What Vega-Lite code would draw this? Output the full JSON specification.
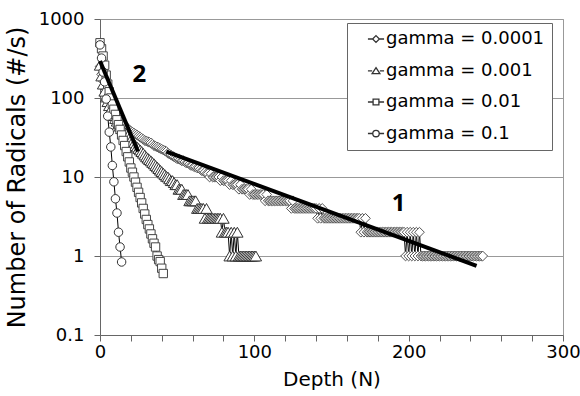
{
"$schema": "https://vega.github.io/schema/vega-lite/v6.json",
"width": 463, "height": 316,
"autosize": {"type": "none"},
"padding": {"left": 100, "top": 19, "right": 17, "bottom": 61},
"background": "white",
"config": {"view": {"stroke": "#999", "strokeWidth": 1}, "font": "DejaVu Sans"},
"datasets": {
"series": [
{"g":"0.0001","d":0,"v":250},{"g":"0.0001","d":1,"v":200},{"g":"0.0001","d":2,"v":165},{"g":"0.0001","d":3,"v":135},{"g":"0.0001","d":4,"v":115},{"g":"0.0001","d":5,"v":100},{"g":"0.0001","d":6,"v":88},{"g":"0.0001","d":7,"v":79},{"g":"0.0001","d":8,"v":72},{"g":"0.0001","d":9,"v":66},
{"g":"0.0001","d":10,"v":61},{"g":"0.0001","d":11,"v":57},{"g":"0.0001","d":12,"v":54},{"g":"0.0001","d":13,"v":51},{"g":"0.0001","d":14,"v":49},{"g":"0.0001","d":15,"v":47},{"g":"0.0001","d":16,"v":45},{"g":"0.0001","d":17,"v":43},{"g":"0.0001","d":18,"v":41},{"g":"0.0001","d":19,"v":39.5},
{"g":"0.0001","d":20,"v":38},{"g":"0.0001","d":21,"v":37},{"g":"0.0001","d":22,"v":36},{"g":"0.0001","d":23,"v":35},{"g":"0.0001","d":24,"v":34},{"g":"0.0001","d":25,"v":33},{"g":"0.0001","d":26,"v":32},{"g":"0.0001","d":27,"v":31},{"g":"0.0001","d":28,"v":30},{"g":"0.0001","d":29,"v":29},
{"g":"0.0001","d":30,"v":28.5},{"g":"0.0001","d":31,"v":28},{"g":"0.0001","d":32,"v":27.5},{"g":"0.0001","d":33,"v":27},{"g":"0.0001","d":34,"v":26},{"g":"0.0001","d":35,"v":25},{"g":"0.0001","d":36,"v":24.5},{"g":"0.0001","d":37,"v":24},{"g":"0.0001","d":38,"v":23.5},{"g":"0.0001","d":39,"v":23},
{"g":"0.0001","d":40,"v":22.5},{"g":"0.0001","d":41,"v":22},{"g":"0.0001","d":42,"v":21.5},{"g":"0.0001","d":43,"v":21},{"g":"0.0001","d":44,"v":20},{"g":"0.0001","d":45,"v":19.5},{"g":"0.0001","d":46,"v":19},{"g":"0.0001","d":47,"v":18.5},{"g":"0.0001","d":48,"v":18},{"g":"0.0001","d":49,"v":17.5},
{"g":"0.0001","d":50,"v":17},{"g":"0.0001","d":51,"v":17},{"g":"0.0001","d":52,"v":16.5},{"g":"0.0001","d":53,"v":16},{"g":"0.0001","d":54,"v":16},{"g":"0.0001","d":55,"v":15.5},{"g":"0.0001","d":56,"v":15},{"g":"0.0001","d":57,"v":15},{"g":"0.0001","d":58,"v":14.5},{"g":"0.0001","d":59,"v":14},
{"g":"0.0001","d":60,"v":14},{"g":"0.0001","d":61,"v":13.5},{"g":"0.0001","d":62,"v":13.5},{"g":"0.0001","d":63,"v":13},{"g":"0.0001","d":64,"v":13},{"g":"0.0001","d":65,"v":12.5},{"g":"0.0001","d":66,"v":12},{"g":"0.0001","d":67,"v":12},{"g":"0.0001","d":68,"v":11.5},{"g":"0.0001","d":69,"v":11},
{"g":"0.0001","d":70,"v":11},{"g":"0.0001","d":71,"v":10},{"g":"0.0001","d":72,"v":11},{"g":"0.0001","d":73,"v":10},{"g":"0.0001","d":74,"v":10},{"g":"0.0001","d":75,"v":10},{"g":"0.0001","d":76,"v":10},{"g":"0.0001","d":77,"v":10},{"g":"0.0001","d":78,"v":9},{"g":"0.0001","d":79,"v":10},
{"g":"0.0001","d":80,"v":9},{"g":"0.0001","d":81,"v":9},{"g":"0.0001","d":82,"v":9},{"g":"0.0001","d":83,"v":9},{"g":"0.0001","d":84,"v":8},{"g":"0.0001","d":85,"v":9},{"g":"0.0001","d":86,"v":8},{"g":"0.0001","d":87,"v":8},{"g":"0.0001","d":88,"v":8},{"g":"0.0001","d":89,"v":8},
{"g":"0.0001","d":90,"v":7},{"g":"0.0001","d":91,"v":8},{"g":"0.0001","d":92,"v":7},{"g":"0.0001","d":93,"v":7},{"g":"0.0001","d":94,"v":7},{"g":"0.0001","d":95,"v":7},{"g":"0.0001","d":96,"v":7},{"g":"0.0001","d":97,"v":6},{"g":"0.0001","d":98,"v":7},{"g":"0.0001","d":99,"v":6},
{"g":"0.0001","d":100,"v":6},{"g":"0.0001","d":101,"v":6},{"g":"0.0001","d":102,"v":6},{"g":"0.0001","d":103,"v":6},{"g":"0.0001","d":104,"v":6},{"g":"0.0001","d":105,"v":6},{"g":"0.0001","d":106,"v":6},{"g":"0.0001","d":107,"v":5},{"g":"0.0001","d":108,"v":6},{"g":"0.0001","d":109,"v":5},
{"g":"0.0001","d":110,"v":5},{"g":"0.0001","d":111,"v":5},{"g":"0.0001","d":112,"v":5},{"g":"0.0001","d":113,"v":5},{"g":"0.0001","d":114,"v":5},{"g":"0.0001","d":115,"v":5},{"g":"0.0001","d":116,"v":5},{"g":"0.0001","d":117,"v":5},{"g":"0.0001","d":118,"v":5},{"g":"0.0001","d":119,"v":5},
{"g":"0.0001","d":120,"v":5},{"g":"0.0001","d":121,"v":5},{"g":"0.0001","d":122,"v":5},{"g":"0.0001","d":123,"v":5},{"g":"0.0001","d":124,"v":4},{"g":"0.0001","d":125,"v":5},{"g":"0.0001","d":126,"v":4},{"g":"0.0001","d":127,"v":4},{"g":"0.0001","d":128,"v":4},{"g":"0.0001","d":129,"v":4},
{"g":"0.0001","d":130,"v":4},{"g":"0.0001","d":131,"v":4},{"g":"0.0001","d":132,"v":4},{"g":"0.0001","d":133,"v":4},{"g":"0.0001","d":134,"v":4},{"g":"0.0001","d":135,"v":4},{"g":"0.0001","d":136,"v":4},{"g":"0.0001","d":137,"v":4},{"g":"0.0001","d":138,"v":4},{"g":"0.0001","d":139,"v":4},
{"g":"0.0001","d":140,"v":4},{"g":"0.0001","d":141,"v":3},{"g":"0.0001","d":142,"v":4},{"g":"0.0001","d":143,"v":3},{"g":"0.0001","d":144,"v":4},{"g":"0.0001","d":145,"v":3},{"g":"0.0001","d":146,"v":3},{"g":"0.0001","d":147,"v":3},{"g":"0.0001","d":148,"v":3},{"g":"0.0001","d":149,"v":3},
{"g":"0.0001","d":150,"v":3},{"g":"0.0001","d":151,"v":3},{"g":"0.0001","d":152,"v":3},{"g":"0.0001","d":153,"v":3},{"g":"0.0001","d":154,"v":3},{"g":"0.0001","d":155,"v":3},{"g":"0.0001","d":156,"v":3},{"g":"0.0001","d":157,"v":3},{"g":"0.0001","d":158,"v":3},{"g":"0.0001","d":159,"v":3},
{"g":"0.0001","d":160,"v":3},{"g":"0.0001","d":161,"v":3},{"g":"0.0001","d":162,"v":3},{"g":"0.0001","d":163,"v":3},{"g":"0.0001","d":164,"v":3},{"g":"0.0001","d":165,"v":3},{"g":"0.0001","d":166,"v":3},{"g":"0.0001","d":167,"v":3},{"g":"0.0001","d":168,"v":3},{"g":"0.0001","d":169,"v":2},
{"g":"0.0001","d":170,"v":3},{"g":"0.0001","d":171,"v":2},{"g":"0.0001","d":172,"v":3},{"g":"0.0001","d":173,"v":2},{"g":"0.0001","d":174,"v":2},{"g":"0.0001","d":175,"v":2},{"g":"0.0001","d":176,"v":2},{"g":"0.0001","d":177,"v":2},{"g":"0.0001","d":178,"v":2},{"g":"0.0001","d":179,"v":2},
{"g":"0.0001","d":180,"v":2},{"g":"0.0001","d":181,"v":2},{"g":"0.0001","d":182,"v":2},{"g":"0.0001","d":183,"v":2},{"g":"0.0001","d":184,"v":2},{"g":"0.0001","d":185,"v":2},{"g":"0.0001","d":186,"v":2},{"g":"0.0001","d":187,"v":2},{"g":"0.0001","d":188,"v":2},{"g":"0.0001","d":189,"v":2},
{"g":"0.0001","d":190,"v":2},{"g":"0.0001","d":191,"v":2},{"g":"0.0001","d":192,"v":2},{"g":"0.0001","d":193,"v":2},{"g":"0.0001","d":194,"v":2},{"g":"0.0001","d":195,"v":2},{"g":"0.0001","d":196,"v":2},{"g":"0.0001","d":197,"v":2},{"g":"0.0001","d":198,"v":1},{"g":"0.0001","d":199,"v":2},
{"g":"0.0001","d":200,"v":1},{"g":"0.0001","d":201,"v":2},{"g":"0.0001","d":202,"v":1},{"g":"0.0001","d":203,"v":2},{"g":"0.0001","d":204,"v":1},{"g":"0.0001","d":205,"v":2},{"g":"0.0001","d":206,"v":1},{"g":"0.0001","d":207,"v":2},{"g":"0.0001","d":208,"v":1},{"g":"0.0001","d":209,"v":1},
{"g":"0.0001","d":210,"v":1},{"g":"0.0001","d":211,"v":1},{"g":"0.0001","d":212,"v":1},{"g":"0.0001","d":213,"v":1},{"g":"0.0001","d":214,"v":1},{"g":"0.0001","d":215,"v":1},{"g":"0.0001","d":216,"v":1},{"g":"0.0001","d":217,"v":1},{"g":"0.0001","d":218,"v":1},{"g":"0.0001","d":219,"v":1},
{"g":"0.0001","d":220,"v":1},{"g":"0.0001","d":221,"v":1},{"g":"0.0001","d":222,"v":1},{"g":"0.0001","d":223,"v":1},{"g":"0.0001","d":224,"v":1},{"g":"0.0001","d":225,"v":1},{"g":"0.0001","d":226,"v":1},{"g":"0.0001","d":227,"v":1},{"g":"0.0001","d":228,"v":1},{"g":"0.0001","d":229,"v":1},
{"g":"0.0001","d":230,"v":1},{"g":"0.0001","d":231,"v":1},{"g":"0.0001","d":232,"v":1},{"g":"0.0001","d":233,"v":1},{"g":"0.0001","d":234,"v":1},{"g":"0.0001","d":235,"v":1},{"g":"0.0001","d":236,"v":1},{"g":"0.0001","d":237,"v":1},{"g":"0.0001","d":238,"v":1},{"g":"0.0001","d":239,"v":1},
{"g":"0.0001","d":240,"v":1},{"g":"0.0001","d":241,"v":1},{"g":"0.0001","d":242,"v":1},{"g":"0.0001","d":243,"v":1},{"g":"0.0001","d":244,"v":1},{"g":"0.0001","d":245,"v":1},{"g":"0.0001","d":246,"v":1},{"g":"0.0001","d":247,"v":1},{"g":"0.0001","d":248,"v":1},
{"g":"0.001","d":0,"v":260},{"g":"0.001","d":1,"v":190},{"g":"0.001","d":2,"v":150},{"g":"0.001","d":3,"v":122},{"g":"0.001","d":4,"v":103},{"g":"0.001","d":5,"v":90},{"g":"0.001","d":6,"v":80},{"g":"0.001","d":7,"v":72},{"g":"0.001","d":8,"v":65},{"g":"0.001","d":9,"v":60},
{"g":"0.001","d":10,"v":55},{"g":"0.001","d":11,"v":51},{"g":"0.001","d":12,"v":47},{"g":"0.001","d":13,"v":44},{"g":"0.001","d":14,"v":41},{"g":"0.001","d":15,"v":39},{"g":"0.001","d":16,"v":37},{"g":"0.001","d":17,"v":35},{"g":"0.001","d":18,"v":33},{"g":"0.001","d":19,"v":31},
{"g":"0.001","d":20,"v":29.5},{"g":"0.001","d":21,"v":28},{"g":"0.001","d":22,"v":26.5},{"g":"0.001","d":23,"v":25},{"g":"0.001","d":24,"v":24},{"g":"0.001","d":25,"v":23},{"g":"0.001","d":26,"v":22},{"g":"0.001","d":27,"v":21},{"g":"0.001","d":28,"v":20},{"g":"0.001","d":29,"v":19},
{"g":"0.001","d":30,"v":18},{"g":"0.001","d":31,"v":17.3},{"g":"0.001","d":32,"v":16.6},{"g":"0.001","d":33,"v":16},{"g":"0.001","d":34,"v":15.3},{"g":"0.001","d":35,"v":14.7},{"g":"0.001","d":36,"v":14},{"g":"0.001","d":37,"v":13.4},{"g":"0.001","d":38,"v":12.8},{"g":"0.001","d":39,"v":12.2},
{"g":"0.001","d":40,"v":11.7},{"g":"0.001","d":41,"v":11.2},{"g":"0.001","d":42,"v":10.7},{"g":"0.001","d":43,"v":10.2},{"g":"0.001","d":44,"v":10},{"g":"0.001","d":45,"v":9.5},{"g":"0.001","d":46,"v":9},{"g":"0.001","d":47,"v":9},{"g":"0.001","d":48,"v":8.5},{"g":"0.001","d":49,"v":8},
{"g":"0.001","d":50,"v":8},{"g":"0.001","d":51,"v":7},{"g":"0.001","d":52,"v":7},{"g":"0.001","d":53,"v":7},{"g":"0.001","d":54,"v":6},{"g":"0.001","d":55,"v":6},{"g":"0.001","d":56,"v":6},{"g":"0.001","d":57,"v":6},{"g":"0.001","d":58,"v":5},{"g":"0.001","d":59,"v":5},
{"g":"0.001","d":60,"v":5},{"g":"0.001","d":61,"v":5},{"g":"0.001","d":62,"v":5},{"g":"0.001","d":63,"v":4},{"g":"0.001","d":64,"v":4},{"g":"0.001","d":65,"v":4},{"g":"0.001","d":66,"v":4},{"g":"0.001","d":67,"v":4},{"g":"0.001","d":68,"v":3},{"g":"0.001","d":69,"v":4},
{"g":"0.001","d":70,"v":3},{"g":"0.001","d":71,"v":3},{"g":"0.001","d":72,"v":3},{"g":"0.001","d":73,"v":3},{"g":"0.001","d":74,"v":3},{"g":"0.001","d":75,"v":3},{"g":"0.001","d":76,"v":3},{"g":"0.001","d":77,"v":3},{"g":"0.001","d":78,"v":3},{"g":"0.001","d":79,"v":2},
{"g":"0.001","d":80,"v":3},{"g":"0.001","d":81,"v":2},{"g":"0.001","d":82,"v":2},{"g":"0.001","d":83,"v":2},{"g":"0.001","d":84,"v":1},{"g":"0.001","d":85,"v":2},{"g":"0.001","d":86,"v":1},{"g":"0.001","d":87,"v":2},{"g":"0.001","d":88,"v":1},{"g":"0.001","d":89,"v":2},
{"g":"0.001","d":90,"v":1},{"g":"0.001","d":91,"v":1},{"g":"0.001","d":92,"v":1},{"g":"0.001","d":93,"v":1},{"g":"0.001","d":94,"v":1},{"g":"0.001","d":95,"v":1},{"g":"0.001","d":96,"v":1},{"g":"0.001","d":97,"v":1},{"g":"0.001","d":98,"v":1},{"g":"0.001","d":99,"v":1},
{"g":"0.001","d":100,"v":1},{"g":"0.001","d":101,"v":1},
{"g":"0.01","d":0,"v":500},{"g":"0.01","d":1,"v":420},{"g":"0.01","d":2,"v":340},{"g":"0.01","d":3,"v":260},{"g":"0.01","d":4,"v":195},{"g":"0.01","d":5,"v":150},{"g":"0.01","d":6,"v":120},{"g":"0.01","d":7,"v":100},{"g":"0.01","d":8,"v":84},{"g":"0.01","d":9,"v":72},
{"g":"0.01","d":10,"v":62},{"g":"0.01","d":11,"v":53},{"g":"0.01","d":12,"v":46},{"g":"0.01","d":13,"v":40},{"g":"0.01","d":14,"v":34},{"g":"0.01","d":15,"v":29},{"g":"0.01","d":16,"v":25},{"g":"0.01","d":17,"v":21},{"g":"0.01","d":18,"v":18},{"g":"0.01","d":19,"v":15.5},
{"g":"0.01","d":20,"v":13},{"g":"0.01","d":21,"v":11.5},{"g":"0.01","d":22,"v":10},{"g":"0.01","d":23,"v":8.6},{"g":"0.01","d":24,"v":7.4},{"g":"0.01","d":25,"v":6.4},{"g":"0.01","d":26,"v":5.5},{"g":"0.01","d":27,"v":4.7},{"g":"0.01","d":28,"v":4},{"g":"0.01","d":29,"v":3.4},
{"g":"0.01","d":30,"v":2.9},{"g":"0.01","d":31,"v":2.5},{"g":"0.01","d":32,"v":2.2},{"g":"0.01","d":33,"v":1.9},{"g":"0.01","d":34,"v":1.65},{"g":"0.01","d":35,"v":1.45},{"g":"0.01","d":36,"v":1.3},{"g":"0.01","d":37,"v":1},{"g":"0.01","d":38,"v":0.9},{"g":"0.01","d":39,"v":0.85},
{"g":"0.01","d":40,"v":0.7},{"g":"0.01","d":41,"v":0.6},
{"g":"0.1","d":0,"v":470},{"g":"0.1","d":1,"v":320},{"g":"0.1","d":2,"v":213},{"g":"0.1","d":3,"v":160},{"g":"0.1","d":4,"v":97},{"g":"0.1","d":5,"v":59},{"g":"0.1","d":6,"v":37},{"g":"0.1","d":7,"v":24},{"g":"0.1","d":8,"v":14},{"g":"0.1","d":9,"v":8.7},
{"g":"0.1","d":10,"v":5.3},{"g":"0.1","d":11,"v":3.5},{"g":"0.1","d":12,"v":2},{"g":"0.1","d":13,"v":1.3},{"g":"0.1","d":14,"v":0.84}
],
"fits": [
{"f":"1","d":43,"v":21},{"f":"1","d":244,"v":0.75},
{"f":"2","d":0,"v":294},{"f":"2","d":24.6,"v":21}
],
"labels": [
{"t":"1","d":193.5,"v":4.5},{"t":"2","d":25.5,"v":193}
]
},
"encoding": {
"x": {"field": "d", "type": "quantitative",
 "scale": {"domain": [0, 300], "nice": false, "zero": false},
 "axis": {"title": "Depth (N)", "values": [0,20,40,60,80,100,120,140,160,180,200,220,240,260,280,300],
  "labelExpr": "datum.value % 100 === 0 ? datum.label : ''", "grid": false,
  "labelFont": "DejaVu Sans", "labelFontSize": 18, "labelColor": "#000", "labelPadding": 2,
  "labelOverlap": false, "labelBound": false, "labelFlush": false,
  "tickSize": 6, "tickColor": "#666", "domainColor": "#666",
  "titleFont": "DejaVu Sans", "titleFontSize": 20, "titleFontWeight": "normal", "titleColor": "#000", "titlePadding": 8}},
"y": {"field": "v", "type": "quantitative",
 "scale": {"type": "log", "domain": [0.1, 1000], "nice": false},
 "axis": {"title": "Number of Radicals (#/s)", "values": [0.1, 1, 10, 100, 1000], "format": "~g",
  "grid": true, "gridColor": "#999", "gridWidth": 1,
  "labelFont": "DejaVu Sans", "labelFontSize": 18, "labelColor": "#000", "labelPadding": 10,
  "labelOverlap": false, "labelBound": false, "labelFlush": false,
  "tickSize": 6, "tickColor": "#666", "domainColor": "#666",
  "titleFont": "DejaVu Sans", "titleFontSize": 24, "titleFontWeight": "normal", "titleColor": "#000", "titlePadding": 9}}
},
"layer": [
{"data": {"name": "series"},
 "mark": {"type": "line", "color": "#000", "strokeWidth": 1},
 "encoding": {"detail": {"field": "g", "type": "nominal"}}},
{"data": {"name": "series"}, "transform": [{"filter": "datum.g == '0.0001'"}],
 "mark": {"type": "point", "shape": "diamond", "fill": "#fff", "fillOpacity": 1, "opacity": 1, "strokeWidth": 1, "stroke": "#555", "size": 95}},
{"data": {"name": "series"}, "transform": [{"filter": "datum.g == '0.001'"}],
 "mark": {"type": "point", "shape": "triangle-up", "fill": "#fff", "fillOpacity": 1, "opacity": 1, "strokeWidth": 1, "stroke": "#333", "size": 130}},
{"data": {"name": "series"}, "transform": [{"filter": "datum.g == '0.01'"}],
 "mark": {"type": "point", "shape": "square", "fill": "#fff", "fillOpacity": 1, "opacity": 1, "strokeWidth": 1, "stroke": "#444", "size": 70}},
{"data": {"name": "series"}, "transform": [{"filter": "datum.g == '0.1'"}],
 "mark": {"type": "point", "shape": "circle", "fill": "#fff", "fillOpacity": 1, "opacity": 1, "strokeWidth": 1, "stroke": "#333", "size": 72}},
{"data": {"name": "fits"},
 "mark": {"type": "line", "color": "#000", "strokeWidth": 4, "strokeCap": "butt"},
 "encoding": {"detail": {"field": "f", "type": "nominal"}}},
{"data": {"name": "labels"},
 "mark": {"type": "text", "font": "Open Sans", "fontWeight": "bold", "fontSize": 24, "color": "#000", "align": "center", "baseline": "middle"},
 "encoding": {"text": {"field": "t", "type": "nominal"}}},
{"data": {"name": "series"}, "transform": [{"filter": "datum.g == 'none'"}],
 "mark": {"type": "point", "filled": false, "stroke": "#333", "strokeWidth": 1.3},
 "encoding": {
  "shape": {"field": "g", "type": "nominal",
   "scale": {"domain": ["0.0001","0.001","0.01","0.1"],
    "range": ["M-1,0H-0.42M0.42,0H1M0,-0.42L0.42,0L0,0.42L-0.42,0Z",
              "M-1,0.05H-0.48M0.48,0.05H1M0,-0.36L0.48,0.38L-0.48,0.38Z",
              "M-1,0H-0.36M0.36,0H1M-0.36,-0.36H0.36V0.36H-0.36Z",
              "M-1,0H-0.4M0.4,0H1M0.4,0A0.4,0.4,0,1,1,-0.4,0A0.4,0.4,0,1,1,0.4,0Z"]},
   "legend": {"title": null, "orient": "none", "legendX": 247, "legendY": 4,
    "labelExpr": "'gamma = ' + datum.label",
    "labelFont": "DejaVu Sans", "labelFontSize": 18, "labelColor": "#000", "labelOffset": 1,
    "symbolSize": 260, "symbolFillColor": "#ffffff", "symbolStrokeColor": "#333333", "symbolStrokeWidth": 1.3, "symbolOpacity": 1,
    "symbolOffset": 13, "padding": 7, "rowPadding": 13.5,
    "strokeColor": "#666", "fillColor": "#fff"}}
 }}
]
}
